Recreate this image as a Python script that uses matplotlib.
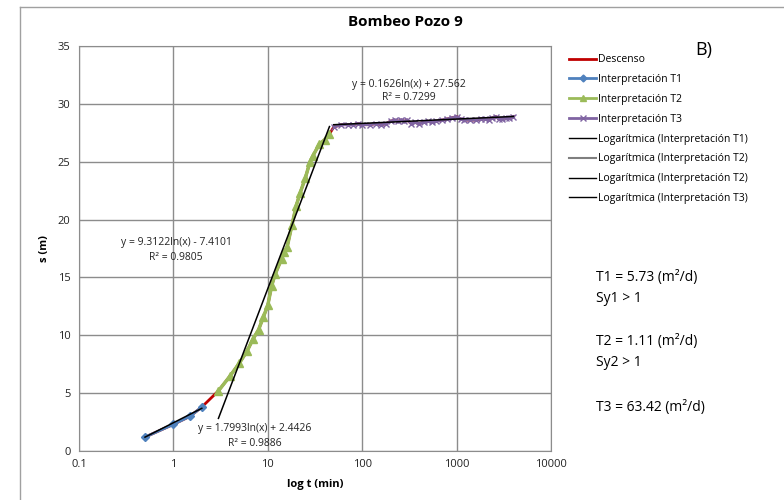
import numpy as np
import matplotlib
matplotlib.use("Agg")
import matplotlib.pyplot as plt
from matplotlib.lines import Line2D

plt.rcParams['font.family'] = ['Open Sans', 'DejaVu Sans']

# tiempos (min) y descensos (m)
t1 = [0.5, 1, 1.5, 2]
s1 = [1.2, 2.3, 3.0, 3.8]

t2 = [3, 4, 5, 6, 7, 8, 9, 10, 11, 12, 14, 15, 16, 18, 20, 22, 25, 28, 30, 35, 40, 45]
s2 = [5.2, 6.5, 7.6, 8.6, 9.7, 10.5, 11.6, 12.6, 14.3, 15.3, 16.6, 17.2, 17.6, 19.5,
      21.2, 22.3, 23.6, 25.0, 25.5, 26.5, 26.9, 27.4]

t3 = [50, 60, 70, 80, 90, 100, 120, 140, 160, 180, 200, 220, 240, 260, 280, 300, 330,
      360, 400, 450, 500, 550, 600, 700, 800, 900, 1000, 1100, 1200, 1400, 1600, 1800,
      2000, 2200, 2400, 2600, 2800, 3000, 3300, 3600, 4000]
s3 = [28.0, 28.2, 28.2, 28.2, 28.3, 28.2, 28.2, 28.3, 28.2, 28.3, 28.5, 28.6, 28.5,
      28.6, 28.5, 28.6, 28.3, 28.4, 28.3, 28.4, 28.5, 28.4, 28.5, 28.6, 28.7, 28.8,
      28.9, 28.7, 28.6, 28.6, 28.6, 28.7, 28.7, 28.6, 28.8, 28.9, 28.7, 28.7, 28.8,
      28.8, 28.9]

# coeficientes de las lineas de tendencia logaritmica (a*ln(x) + b)
fit1 = (1.7993, 2.4426)
fit2 = (9.3122, -7.4101)
fit3 = (0.1626, 27.562)

xticks = [0.1, 1, 10, 100, 1000, 10000]
xtick_labels = ['0.1', '1', '10', '100', '1000', '10000']

c_red = '#C00000'
c_blue = '#4F81BD'
c_green = '#9BBB59'
c_purple = '#8064A2'
c_grid = '#8C8C8C'

fig = plt.figure(figsize=(7.84, 5.0), dpi=100)
ax = fig.add_axes([79 / 784, 49 / 500, 472 / 784, 405 / 500])

# descenso completo
t_all = t1 + t2 + t3
s_all = s1 + s2 + s3
ax.plot(t_all, s_all, color=c_red, lw=2, zorder=2)

ax.plot(t1, s1, color=c_blue, lw=2, marker='D', ms=4, zorder=3)
ax.plot(t2, s2, color=c_green, lw=2.5, marker='^', ms=6, zorder=3)
ax.plot(t3, s3, color=c_purple, lw=2, marker='x', ms=5, mew=1, zorder=3)


def trend(t, coef):
    xx = np.logspace(np.log10(min(t)), np.log10(max(t)), 50)
    return xx, coef[0] * np.log(xx) + coef[1]


for t, coef in [(t1, fit1), (t2, fit2), (t3, fit3)]:
    xx, yy = trend(t, coef)
    ax.plot(xx, yy, color='black', lw=1.1, zorder=4)

ax.set_xscale('log')
ax.set_xlim(0.1, 10000)
ax.set_ylim(0, 35)
ax.set_xticks(xticks)
ax.set_xticklabels(xtick_labels)
ax.minorticks_off()
ax.set_yticks(np.arange(0, 36, 5))
ax.tick_params(length=0, labelsize=8, colors='#222222', pad=6)
ax.grid(True, color=c_grid, lw=1)
ax.set_axisbelow(True)
for sp in ax.spines.values():
    sp.set_color(c_grid)

ax.set_xlabel('log t (min)', fontsize=8, fontweight='bold', labelpad=6)
ax.set_ylabel('s (m)', fontsize=8, fontweight='bold', labelpad=6)
fig.text(405 / 784, 1 - 22 / 500, 'Bombeo Pozo 9', fontsize=11, fontweight='bold',
         ha='center', va='center')

# ecuaciones
eq_kw = dict(fontsize=7.5, ha='center', va='center', color='#222222')
fig.text(409 / 784, 1 - 84 / 500, 'y = 0.1626ln(x) + 27.562', **eq_kw)
fig.text(409 / 784, 1 - 98 / 500, 'R² = 0.7299', **eq_kw)
fig.text(176 / 784, 1 - 243 / 500, 'y = 9.3122ln(x) - 7.4101', **eq_kw)
fig.text(176 / 784, 1 - 258 / 500, 'R² = 0.9805', **eq_kw)
fig.text(255 / 784, 1 - 428 / 500, 'y = 1.7993ln(x) + 2.4426', **eq_kw)
fig.text(255 / 784, 1 - 443 / 500, 'R² = 0.9886', **eq_kw)

# leyenda
handles = [
    Line2D([], [], color=c_red, lw=2),
    Line2D([], [], color=c_blue, lw=2, marker='D', ms=3.5),
    Line2D([], [], color=c_green, lw=2, marker='^', ms=5),
    Line2D([], [], color=c_purple, lw=2, marker='x', ms=5),
    Line2D([], [], color='black', lw=1),
    Line2D([], [], color='#7F7F7F', lw=1.5),
    Line2D([], [], color='black', lw=1),
    Line2D([], [], color='black', lw=1),
]
labels = ['Descenso', 'Interpretación T1', 'Interpretación T2', 'Interpretación T3',
          'Logarítmica (Interpretación T1)', 'Logarítmica (Interpretación T2)',
          'Logarítmica (Interpretación T2)', 'Logarítmica (Interpretación T3)']
fig.legend(handles, labels, loc='upper left', bbox_to_anchor=(565 / 784, 1 - 50 / 500),
           frameon=False, fontsize=7.5, handlelength=2.6, handletextpad=0.2,
           labelspacing=0.85, borderaxespad=0)

fig.text(695 / 784, 1 - 50 / 500, 'B)', fontsize=13, va='center')

info = [('T1 = 5.73 (m²/d)', 277), ('Sy1 > 1', 298), ('T2 = 1.11 (m²/d)', 341),
        ('Sy2 > 1', 362), ('T3 = 63.42 (m²/d)', 407)]
for txt, yp in info:
    fig.text(596 / 784, 1 - yp / 500, txt, fontsize=10, va='center')

# borde del area del grafico
fig.add_artist(Line2D([20 / 784, 20 / 784], [0, 1 - 7 / 500], color='#A0A0A0', lw=1,
                      transform=fig.transFigure))
fig.add_artist(Line2D([20 / 784, 1], [1 - 7 / 500, 1 - 7 / 500], color='#A0A0A0', lw=1,
                      transform=fig.transFigure))

fig.savefig('out.png', dpi=100)
